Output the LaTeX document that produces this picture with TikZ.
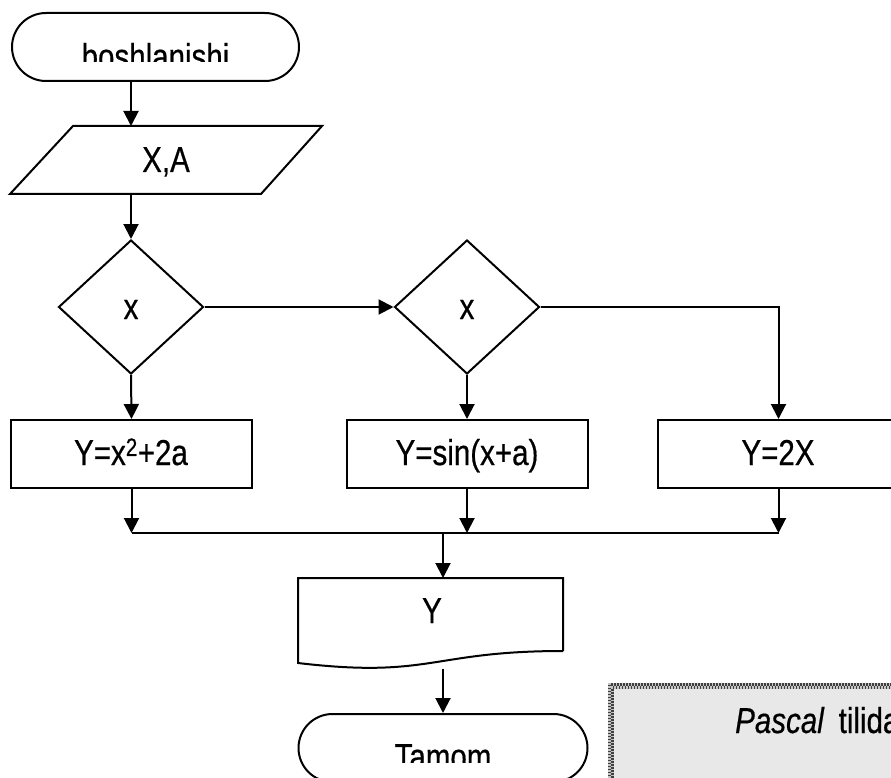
\documentclass[tikz,border=0pt]{standalone}
\usepackage{fontspec}
\setmainfont{Liberation Sans}[FakeStretch=0.82,FakeBold=0.5]
\usetikzlibrary{arrows.meta,shapes.geometric,shapes.misc}
\definecolor{boxgrey}{RGB}{232,232,232}
\begin{document}
\begin{tikzpicture}[x=1pt,y=-1pt,
  lw/.style={line width=2pt},
  flow/.style={lw,-{Triangle[length=15pt,width=15pt]}},
  link/.style={lw},
  term/.style={lw,draw,rounded rectangle,minimum width=287pt,minimum height=68pt,inner sep=0pt},
  procbox/.style={lw,draw,rectangle,minimum width=241pt,minimum height=68pt,inner sep=0pt},
  decide/.style={lw,draw,diamond,minimum width=145pt,minimum height=134pt,inner sep=0pt},
  txt/.style={font=\fontsize{36}{40}\selectfont,inner sep=0pt,anchor=base},
]
\useasboundingbox (0,0) rectangle (891,778);
\clip (0,0) rectangle (891,778);

% start terminal
\node[term] (start) at (155.5,47) {};
\begin{scope}
  \clip (0,0) rectangle (891,62);
  \node[txt] (starttext) at (155.5,69) {boshlanishi};
\end{scope}

% input parallelogram
\draw[lw] (73,126) -- (322,126) -- (261,194) -- (10,194) -- cycle;
\node[txt] (io) at (166,172) {X,A};
\coordinate (iotop) at (131,126);
\coordinate (iobot) at (131,194);

% decisions
\node[decide] (d1) at (131,307) {};
\node[txt] (d1t) at (131,319) {x};
\node[decide] (d2) at (467,307) {};
\node[txt] (d2t) at (467,319) {x};

% process boxes
\node[procbox] (b1) at (131.5,454) {};
\node[txt] (b1t) at (131,465) {Y=x\textsuperscript{2}+2a};
\node[procbox] (b2) at (467,454) {};
\node[txt] (b2t) at (467,465) {Y=sin(x+a)};
\node[procbox] (b3) at (778.5,454) {};
\node[txt] (b3t) at (778,465) {Y=2X};

% join
\coordinate (jy) at (0,533);
\coordinate (jm) at (443,533);

% output document
\draw[lw] (563,651) -- (563,578) -- (298,578) -- (298,663)
  .. controls (431,678.7) and (431,651) .. (563,651);
\node[txt] (doc) at (432,623) {Y};
\coordinate (doctop) at (443,578);
\coordinate (docbot) at (443,669);

% end terminal
\node[term,minimum width=289pt] (end) at (443,748) {};
\begin{scope}
  \clip (0,0) rectangle (891,762);
  \node[txt] (endtext) at (443,769) {Tamom};
\end{scope}

% connectors
\draw[flow] (start.south -| iotop) -- (iotop);
\draw[flow] (iobot) -- (d1.north);
\draw[flow] (d1.east) -- (d2.west);
\draw[flow] (d2.east) -| (b3.north);
\draw[flow] (d1.south) -- (b1.north);
\draw[flow] (d2.south) -- (b2.north);
\draw[flow] (b1.south) -- (b1.south |- jy);
\draw[flow] (b2.south) -- (b2.south |- jy);
\draw[flow] (b3.south) -- (b3.south |- jy);
\draw[link] (b1.south |- jy) -- (b3.south |- jy);
\draw[flow] (jm) -- (doctop);
\draw[flow] (docbot) -- (end.north);

% grey note box
\fill[boxgrey] (611,686) rectangle (1000,900);
\draw[line width=6pt,draw=gray!45] (611,686) rectangle (1000,900);
\draw[line width=3pt,draw=black!75,dash pattern=on 1.5pt off 1.5pt] (609.5,684.5) rectangle (1000,900);
\draw[line width=3pt,draw=black!75,dash pattern=on 1.5pt off 1.5pt,dash phase=1.5pt] (612.5,687.5) rectangle (1000,900);
\node[txt,anchor=base west] (note) at (735,733) {\textit{Pascal}\, tilida};
\end{tikzpicture}
\end{document}
